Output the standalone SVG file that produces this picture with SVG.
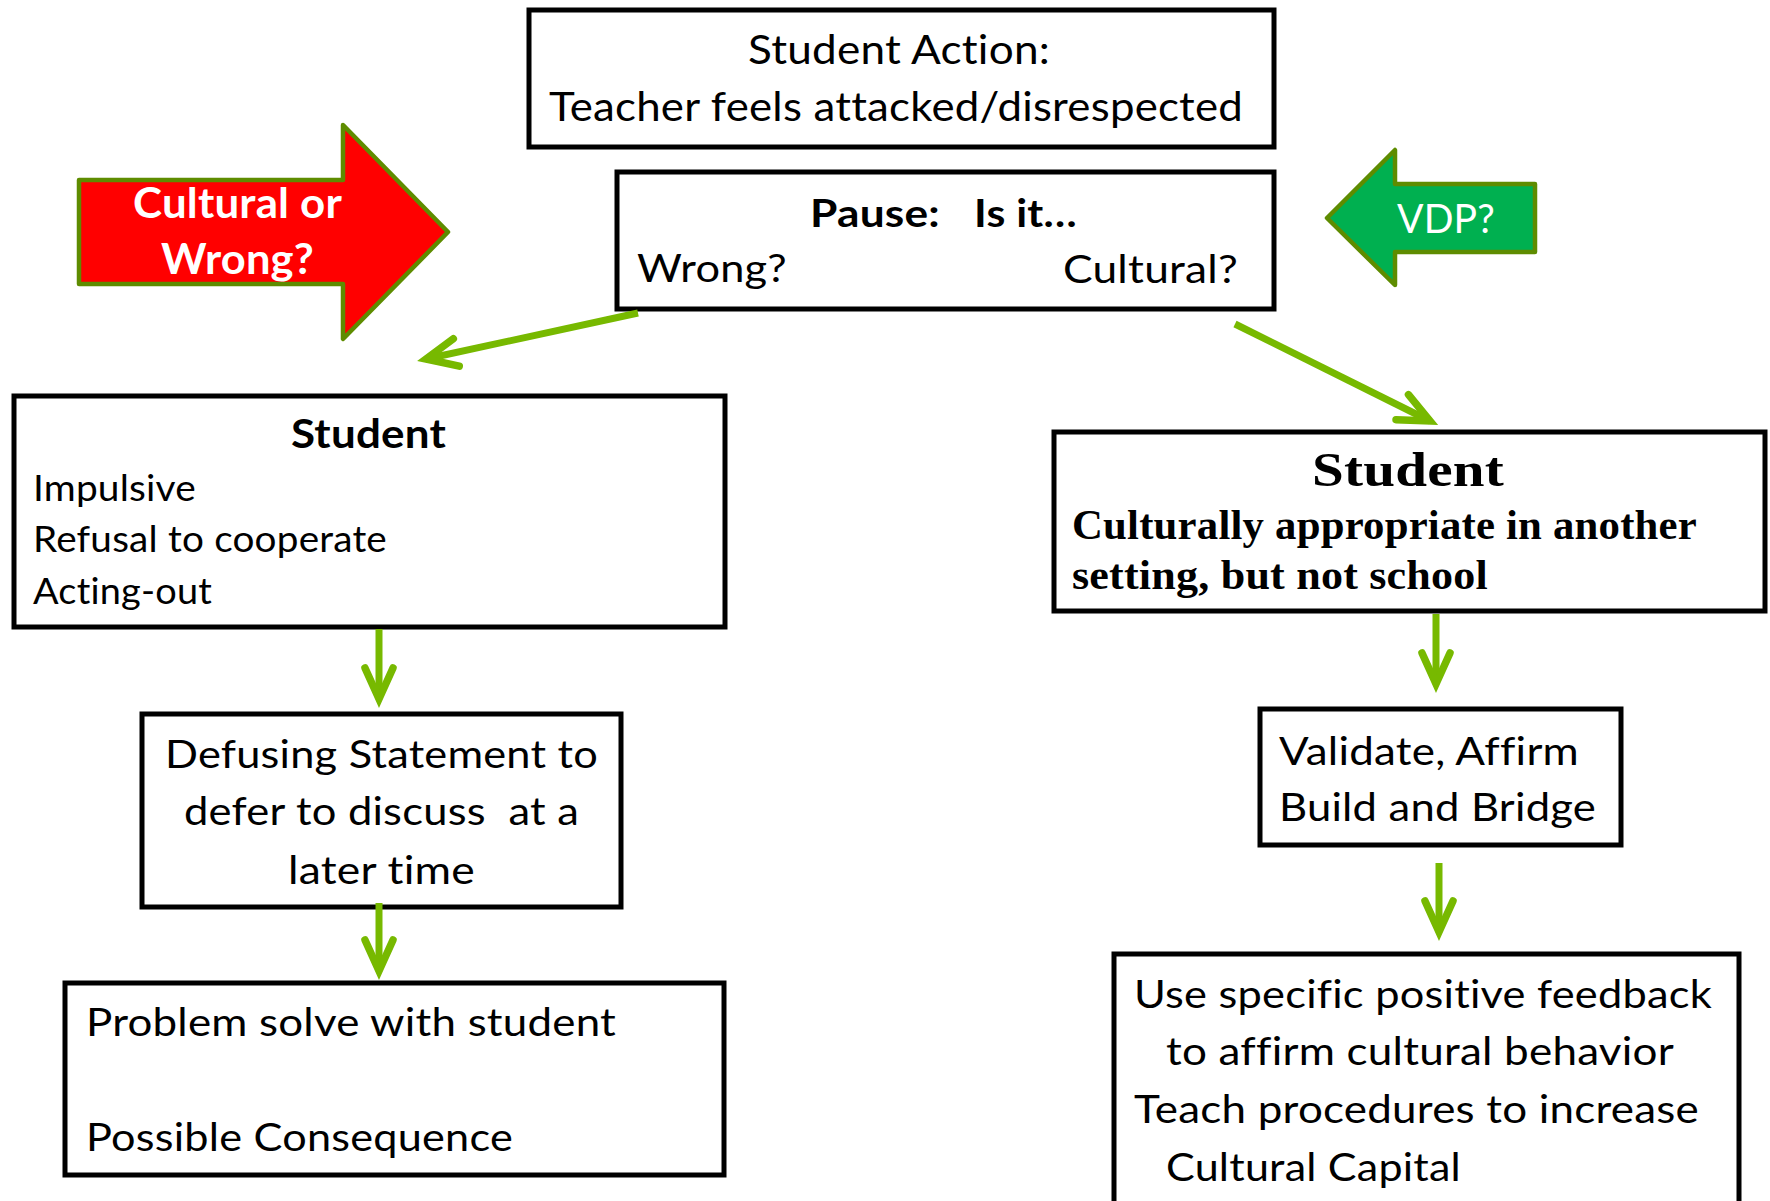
<svg xmlns="http://www.w3.org/2000/svg" width="1770" height="1201" viewBox="0 0 1770 1201">
<defs>
<style>
.box{fill:#fff;stroke:#000;stroke-width:5}
text{font-variant-ligatures:none;font-feature-settings:"liga" 0,"clig" 0;letter-spacing:0.2px}
.t{font-family:Lato,"Open Sans","Noto Sans",sans-serif;fill:#000}
.b{font-weight:bold}
.s{font-family:"Liberation Serif","DejaVu Serif",serif;font-weight:bold;fill:#000}
.w{fill:#fff}
.con{stroke:#77B900;stroke-width:7;fill:none;stroke-linecap:butt}
.big{stroke:#5E8C00;stroke-width:4.5;stroke-linejoin:round}
</style>
<marker id="ah" markerUnits="userSpaceOnUse" markerWidth="80" markerHeight="80" viewBox="-50 -40 80 80" refX="0" refY="0" orient="auto">
<path d="M-31,-14 L0,0 L-31,14" fill="none" stroke="#77B900" stroke-width="7.5" stroke-linecap="round" stroke-linejoin="miter" stroke-miterlimit="10"/>
</marker>
</defs>
<rect width="1770" height="1201" fill="#fff"/>

<g id="top">
<rect class="box" x="529" y="10" width="745" height="137"/>
<text class="t" x="748" y="64" font-size="40" textLength="302" lengthAdjust="spacingAndGlyphs">Student Action:</text>
<text class="t" x="549" y="121" font-size="40" textLength="694" lengthAdjust="spacingAndGlyphs">Teacher feels attacked/disrespected</text>
</g>

<g id="pause">
<rect class="box" x="617" y="172" width="657" height="137"/>
<text class="t b" x="810" y="227" font-size="39" textLength="130" lengthAdjust="spacingAndGlyphs">Pause:</text>
<text class="t b" x="974" y="227" font-size="39" textLength="103" lengthAdjust="spacingAndGlyphs">Is it…</text>
<text class="t" x="637" y="282" font-size="39" textLength="150" lengthAdjust="spacingAndGlyphs">Wrong?</text>
<text class="t" x="1063" y="283" font-size="39" textLength="175" lengthAdjust="spacingAndGlyphs">Cultural?</text>
</g>

<g id="red-arrow">
<polygon class="big" fill="#FF0000" points="79,180 343,180 343,125 448,232 343,339 343,284 79,284"/>
<text class="t b w" x="133" y="218" font-size="42" textLength="209" lengthAdjust="spacingAndGlyphs">Cultural or</text>
<text class="t b w" x="161" y="274" font-size="42" textLength="153" lengthAdjust="spacingAndGlyphs">Wrong?</text>
</g>

<g id="green-arrow">
<polygon class="big" fill="#00B050" points="1327,218 1395,150 1395,184 1535,184 1535,252 1395,252 1395,285"/>
<text class="t w" x="1397" y="233" font-size="41" textLength="98" lengthAdjust="spacingAndGlyphs">VDP?</text>
</g>

<g id="student-left">
<rect class="box" x="14" y="396" width="711" height="231"/>
<text class="t b" x="291" y="448" font-size="41" textLength="155" lengthAdjust="spacingAndGlyphs">Student</text>
<text class="t" x="33" y="501" font-size="37.5" textLength="163" lengthAdjust="spacingAndGlyphs">Impulsive</text>
<text class="t" x="33" y="552" font-size="37.5" textLength="354" lengthAdjust="spacingAndGlyphs">Refusal to cooperate</text>
<text class="t" x="33" y="604" font-size="37.5" textLength="179" lengthAdjust="spacingAndGlyphs">Acting-out</text>
</g>

<g id="defusing">
<rect class="box" x="142" y="714" width="479" height="193"/>
<text class="t" x="165" y="768" font-size="39" textLength="433" lengthAdjust="spacingAndGlyphs">Defusing Statement to</text>
<text class="t" x="184" y="825" font-size="39" textLength="395" lengthAdjust="spacingAndGlyphs" xml:space="preserve">defer to discuss  at a</text>
<text class="t" x="288" y="884" font-size="39" textLength="187" lengthAdjust="spacingAndGlyphs">later time</text>
</g>

<g id="problem">
<rect class="box" x="65" y="983" width="659" height="192"/>
<text class="t" x="86" y="1036" font-size="39" textLength="530" lengthAdjust="spacingAndGlyphs">Problem solve with student</text>
<text class="t" x="86" y="1151" font-size="39" textLength="427" lengthAdjust="spacingAndGlyphs">Possible Consequence</text>
</g>

<g id="student-right">
<rect class="box" x="1054" y="432" width="711" height="179"/>
<text class="s" x="1312" y="486" font-size="48" textLength="192" lengthAdjust="spacingAndGlyphs">Student</text>
<text class="s" x="1072" y="539" font-size="42" textLength="625" lengthAdjust="spacingAndGlyphs">Culturally appropriate in another</text>
<text class="s" x="1072" y="589" font-size="42" textLength="416" lengthAdjust="spacingAndGlyphs">setting, but not school</text>
</g>

<g id="validate">
<rect class="box" x="1260" y="709" width="361" height="136"/>
<text class="t" x="1279" y="765" font-size="39" textLength="300" lengthAdjust="spacingAndGlyphs">Validate, Affirm</text>
<text class="t" x="1279" y="821" font-size="39" textLength="317" lengthAdjust="spacingAndGlyphs">Build and Bridge</text>
</g>

<g id="feedback">
<rect class="box" x="1114" y="954" width="625" height="270"/>
<text class="t" x="1134" y="1008" font-size="39" textLength="578" lengthAdjust="spacingAndGlyphs">Use specific positive feedback</text>
<text class="t" x="1166" y="1065" font-size="39" textLength="508" lengthAdjust="spacingAndGlyphs">to affirm cultural behavior</text>
<text class="t" x="1134" y="1123" font-size="39" textLength="565" lengthAdjust="spacingAndGlyphs">Teach procedures to increase</text>
<text class="t" x="1166" y="1181" font-size="39" textLength="295" lengthAdjust="spacingAndGlyphs">Cultural Capital</text>
</g>

<g id="connectors">
<line class="con" x1="638" y1="313" x2="426" y2="359" marker-end="url(#ah)"/>
<line class="con" x1="1235" y1="324" x2="1430" y2="421" marker-end="url(#ah)"/>
<line class="con" x1="379" y1="629" x2="379" y2="699" marker-end="url(#ah)"/>
<line class="con" x1="379" y1="903" x2="379" y2="971" marker-end="url(#ah)"/>
<line class="con" x1="1436" y1="614" x2="1436" y2="684" marker-end="url(#ah)"/>
<line class="con" x1="1439" y1="863" x2="1439" y2="932" marker-end="url(#ah)"/>
</g>
</svg>
